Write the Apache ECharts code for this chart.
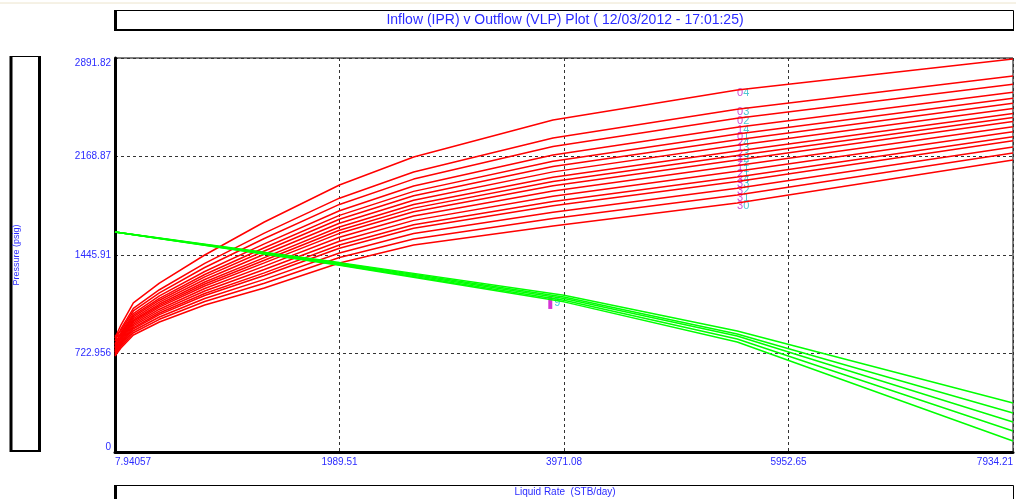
<!DOCTYPE html>
<html><head><meta charset="utf-8">
<script src="https://cdn.jsdelivr.net/npm/echarts@6/dist/echarts.min.js"></script>
<style>html,body{margin:0;padding:0;background:#fff}#c{width:1016px;height:499px}</style>
</head><body><div id="c"></div>
<script>
// ---- tick labels ----
const xTickLabels = ['7.94057', '1989.51', '3971.08', '5952.65', '7934.21'];
const yTickLabels = ['0', '722.956', '1445.91', '2168.87', '2891.82'];
const X_MIN = 7.94057, X_MAX = 7934.21, Y_MAX = 2891.82;

// ---- VLP (outflow) curves: pressure (psig) at these liquid rates (STB/day) ----
const vlpRates = [7.94, 60, 170, 400, 800, 1326, 1989, 2644, 3874, 5500, 7934];
const vlp01 = [837, 932, 1094, 1240, 1446, 1688, 1960, 2165, 2437, 2657, 2885];
const vlp02 = [815, 903, 1054, 1191, 1384, 1606, 1863, 2055, 2305, 2516, 2759];
const vlp03 = [850, 890, 1035, 1168, 1354, 1567, 1817, 2003, 2242, 2450, 2699];
const vlp04 = [793, 876, 1016, 1146, 1325, 1528, 1771, 1952, 2180, 2383, 2640];
const vlp05 = [786, 866, 1002, 1128, 1303, 1499, 1737, 1913, 2134, 2334, 2596];
const vlp06 = [845, 858, 991, 1114, 1285, 1475, 1708, 1881, 2095, 2292, 2559];
const vlp07 = [772, 849, 979, 1100, 1266, 1451, 1679, 1848, 2056, 2251, 2521];
const vlp08 = [766, 841, 967, 1086, 1248, 1427, 1651, 1816, 2017, 2209, 2484];
const vlp09 = [760, 834, 958, 1074, 1233, 1407, 1628, 1790, 1986, 2176, 2455];
const vlp10 = [830, 827, 948, 1063, 1218, 1388, 1605, 1764, 1955, 2143, 2425];
const vlp11 = [749, 819, 937, 1048, 1200, 1364, 1576, 1732, 1916, 2102, 2388];
const vlp12 = [742, 810, 925, 1034, 1182, 1340, 1547, 1700, 1877, 2060, 2351];
const vlp13 = [735, 802, 913, 1020, 1163, 1315, 1519, 1668, 1838, 2019, 2314];
const vlp14 = [730, 795, 904, 1008, 1149, 1296, 1496, 1642, 1807, 1986, 2284];
const vlp15 = [722, 785, 890, 991, 1127, 1267, 1461, 1603, 1760, 1936, 2239];
const vlp16 = [714, 775, 875, 974, 1105, 1238, 1427, 1564, 1713, 1886, 2195];
const vlp17 = [705, 763, 859, 954, 1079, 1204, 1387, 1519, 1659, 1828, 2143];
const vlpLabels = ['04', '03', '02', '14', '01', '24', '13', '23', '12', '22', '11', '21', '34', '33', '32', '31', '30'];
const vlpLabelRateIndex = 9;

// ---- IPR (inflow) curves ----
const iprRates = [7.94, 1989.5, 3971, 5500, 7934.21];
const ipr1 = [1615, 1390, 1150, 888, 360];
const ipr2 = [1615, 1385, 1138, 866, 286];
const ipr3 = [1615, 1380, 1126, 851, 220];
const ipr4 = [1615, 1375, 1114, 829, 154];
const ipr5 = [1615, 1370, 1102, 807, 81];

// ---- marker ----
const opRates = [3850];
const opPressures = [1094];
const opLabels = ['9'];

const vlpCurves = [vlp01, vlp02, vlp03, vlp04, vlp05, vlp06, vlp07, vlp08, vlp09, vlp10, vlp11, vlp12, vlp13, vlp14, vlp15, vlp16, vlp17];
const iprCurves = [ipr1, ipr2, ipr3, ipr4, ipr5];

const FONT = 'Liberation Sans, Arial, sans-serif';
const BLUE = '#2b2bff';
const xs = r => r - X_MIN;

const series = [];
vlpCurves.forEach((c) => {
  series.push({
    type: 'line', showSymbol: false, silent: true, animation: false,
    lineStyle: { color: '#ff0000', width: 1.5 },
    data: c.map((p, i) => [xs(vlpRates[i]), p])
  });
});
iprCurves.forEach((c) => {
  series.push({
    type: 'line', showSymbol: false, silent: true, animation: false,
    lineStyle: { color: '#00ff00', width: 1.5 },
    data: c.map((p, i) => [xs(iprRates[i]), p])
  });
});
series.push({
  type: 'scatter', symbolSize: 0, animation: false, silent: true,
  data: vlpCurves.map((c, i) => ({
    value: [xs(vlpRates[vlpLabelRateIndex]), c[vlpLabelRateIndex]],
    label: {
      show: true, position: 'inside', offset: [6, 3],
      formatter: '{a|' + vlpLabels[i][0] + '}{b|' + vlpLabels[i].slice(1) + '}',
      rich: {
        a: { color: '#c020c8', fontSize: 11, fontFamily: FONT },
        b: { color: '#20b8c8', fontSize: 11, fontFamily: FONT }
      }
    }
  }))
});
series.push({
  type: 'scatter', symbol: 'rect', symbolSize: [4, 12], animation: false, silent: true,
  itemStyle: { color: '#cc00cc' },
  label: { show: true, position: 'right', distance: 2, color: '#10c0d0', fontSize: 11, fontFamily: FONT,
    formatter: p => opLabels[p.dataIndex] },
  data: opRates.map((r, i) => [xs(r), opPressures[i]])
});

const chart = echarts.init(document.getElementById('c'), null, { renderer: 'canvas' });
chart.setOption({
  animation: false,
  backgroundColor: '#ffffff',
  grid: { left: 115, right: 1, top: 58, bottom: 47, show: true, borderColor: '#000', borderWidth: 1, backgroundColor: 'transparent' },
  xAxis: {
    type: 'value', min: 0, max: X_MAX - X_MIN, interval: (X_MAX - X_MIN) / 4,
    axisLine: { show: true, onZero: false, lineStyle: { color: '#000', width: 3 } },
    axisTick: { show: false },
    splitLine: { show: true, lineStyle: { color: '#333', width: 1, type: [3, 3] } },
    axisLabel: {
      color: BLUE, fontSize: 10, fontFamily: FONT, margin: 5,
      alignMinLabel: 'left', alignMaxLabel: 'right',
      formatter: (v, i) => (xTickLabels[i] !== undefined ? xTickLabels[i] : '')
    }
  },
  yAxis: {
    type: 'value', min: 0, max: Y_MAX, interval: Y_MAX / 4,
    axisLine: { show: true, onZero: false, lineStyle: { color: '#000', width: 3 } },
    axisTick: { show: false },
    splitLine: { show: true, lineStyle: { color: '#333', width: 1, type: [3, 3] } },
    axisLabel: {
      color: BLUE, fontSize: 10, fontFamily: FONT, margin: 4,
      verticalAlignMinLabel: 'bottom', verticalAlignMaxLabel: 'top',
      formatter: (v, i) => (yTickLabels[i] !== undefined ? yTickLabels[i] : '')
    }
  },
  graphic: [
    { type: 'line', shape: { x1: 0, y1: 3, x2: 1016, y2: 3 }, style: { stroke: '#ece4cc', lineWidth: 1 } },
    // title box
    { type: 'rect', shape: { x: 114.5, y: 10.5, width: 899, height: 20 }, style: { fill: '#fff', stroke: '#000', lineWidth: 1 } },
    { type: 'line', shape: { x1: 115.5, y1: 10, x2: 115.5, y2: 31 }, style: { stroke: '#000', lineWidth: 3 } },
    { type: 'line', shape: { x1: 114, y1: 30, x2: 1014, y2: 30 }, style: { stroke: '#000', lineWidth: 2 } },
    { type: 'text', x: 565, y: 20, style: { text: 'Inflow (IPR) v Outflow (VLP) Plot ( 12/03/2012 - 17:01:25)', fill: BLUE, font: '14px ' + FONT, textAlign: 'center', textVerticalAlign: 'middle' } },
    // y name box
    { type: 'rect', shape: { x: 10.5, y: 56.5, width: 29, height: 395 }, style: { fill: '#fff', stroke: '#000', lineWidth: 1 } },
    { type: 'line', shape: { x1: 11, y1: 56, x2: 11, y2: 452 }, style: { stroke: '#000', lineWidth: 3 } },
    { type: 'line', shape: { x1: 39.5, y1: 56, x2: 39.5, y2: 452 }, style: { stroke: '#000', lineWidth: 3 } },
    { type: 'line', shape: { x1: 10, y1: 451, x2: 41, y2: 451 }, style: { stroke: '#000', lineWidth: 2 } },
    { type: 'text', x: 17, y: 255, rotation: Math.PI / 2, style: { text: 'Pressure (psig)', fill: BLUE, font: '9px ' + FONT, textAlign: 'center', textVerticalAlign: 'middle' } },
    // x name box
    { type: 'rect', shape: { x: 114.5, y: 485.5, width: 899, height: 20 }, style: { fill: '#fff', stroke: '#000', lineWidth: 1 } },
    { type: 'line', shape: { x1: 115.5, y1: 485, x2: 115.5, y2: 499 }, style: { stroke: '#000', lineWidth: 3 } },
    { type: 'text', x: 565, y: 492, style: { text: 'Liquid Rate  (STB/day)', fill: BLUE, font: '10px ' + FONT, textAlign: 'center', textVerticalAlign: 'middle' } }
  ],
  series: series
});
</script>
</body></html>
